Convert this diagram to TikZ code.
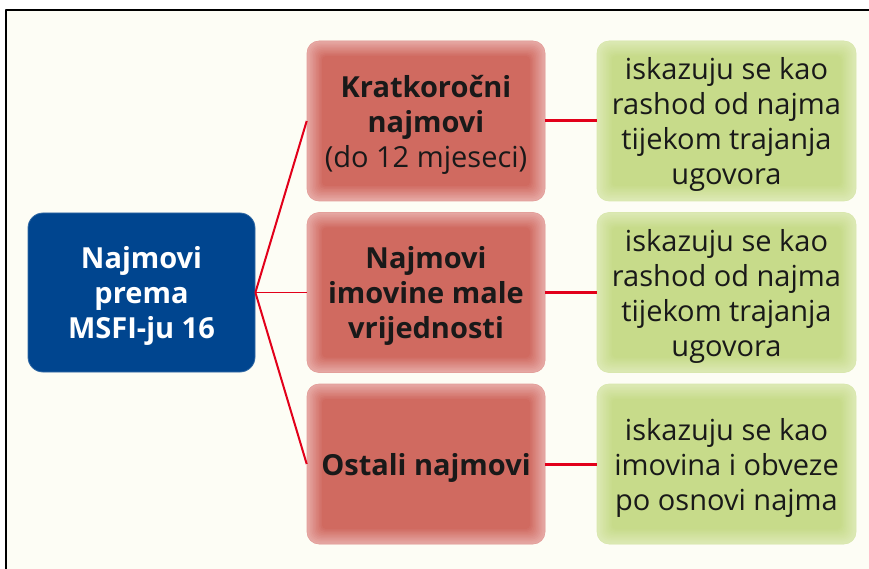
\documentclass[tikz,border=0pt]{standalone}
\usepackage{fontspec}
\setmainfont{Open Sans}
\usetikzlibrary{calc}

\definecolor{cream}{RGB}{253,253,245}
\definecolor{leaseblue}{RGB}{0,69,143}
\definecolor{leasered}{RGB}{208,106,96}
\definecolor{leaseredlight}{RGB}{230,168,164}
\definecolor{leasegreen}{RGB}{199,219,138}
\definecolor{leasegreenlight}{RGB}{220,233,180}
\definecolor{linkred}{RGB}{226,0,26}

\begin{document}
\begin{tikzpicture}[x=1pt, y=-1pt, line cap=round, line join=round,
	txt/.style={font=\fontsize{29}{35}\selectfont, align=center, text=black!90,
		text depth=-3pt},
	glow/.style 2 args={rounded corners=12pt, draw=#2!85!#1, line width=0.6pt, fill=#2,
		path picture={
			\foreach \k in {0,...,10}{
				\pgfmathtruncatemacro{\mix}{\k*10}
				\pgfmathsetmacro{\rad}{12-0.8*\k}
				\fill[#1!\mix!#2, rounded corners=\rad pt]
				($(path picture bounding box.south west)+(\k*1.5pt,\k*1.5pt)$) rectangle
				($(path picture bounding box.north east)-(\k*1.5pt,\k*1.5pt)$);
			}}},
	rootbox/.style={txt, font=\fontsize{29}{35}\selectfont\bfseries, text=white,
		fill=leaseblue, draw=leaseblue!80!white, line width=0.8pt, rounded corners=15pt,
		minimum width=227pt, minimum height=159pt},
	redbox/.style={txt, glow={leasered}{leaseredlight}, minimum width=238pt, minimum height=160pt},
	greenbox/.style={txt, glow={leasegreen}{leasegreenlight}, minimum width=259pt, minimum height=160pt},
	link/.style={linkred, line cap=butt}]
	
	%========================
	% frame and background
	%========================
	\clip (0,0) rectangle (869,569);
	\fill[cream] (6,10) rectangle (900,600);
	\draw[line width=2.2pt, line cap=butt] (6,600) -- (6,10) -- (900,10);
	
	%========================
	% Left: root
	%========================
	\node[rootbox] (lease) at (141.5,292.5) {Najmovi\\prema\\MSFI-ju 16};
	
	%========================
	% Middle: lease types
	%========================
	\node[redbox] (short) at (426,121) {\textbf{Kratkoročni}\\\textbf{najmovi}\\(do 12 mjeseci)};
	\node[redbox] (lowval) at (426,292.5) {\textbf{Najmovi}\\\textbf{imovine male}\\\textbf{vrijednosti}};
	\node[redbox] (other) at (426,464) {\textbf{Ostali najmovi}};
	
	%========================
	% Right: accounting treatment
	%========================
	\node[greenbox] (shortexp) at (726.5,121) {iskazuju se kao\\rashod od najma\\tijekom trajanja\\ugovora};
	\node[greenbox] (lowvalexp) at (726.5,292.5) {iskazuju se kao\\rashod od najma\\tijekom trajanja\\ugovora};
	\node[greenbox] (otherrec) at (726.5,464) {iskazuju se kao\\imovina i obveze\\po osnovi najma};
	
	% connectors
	\draw[link, line width=2pt] (lease.east) -- (short.west);
	\draw[link, line width=1pt] (lease.east) -- (lowval.west);
	\draw[link, line width=2pt] (lease.east) -- (other.west);
	\draw[link, line width=3pt] (short.east) -- (shortexp.west);
	\draw[link, line width=3pt] (lowval.east) -- (lowvalexp.west);
	\draw[link, line width=3pt] (other.east) -- (otherrec.west);
	
\end{tikzpicture}
\end{document}
